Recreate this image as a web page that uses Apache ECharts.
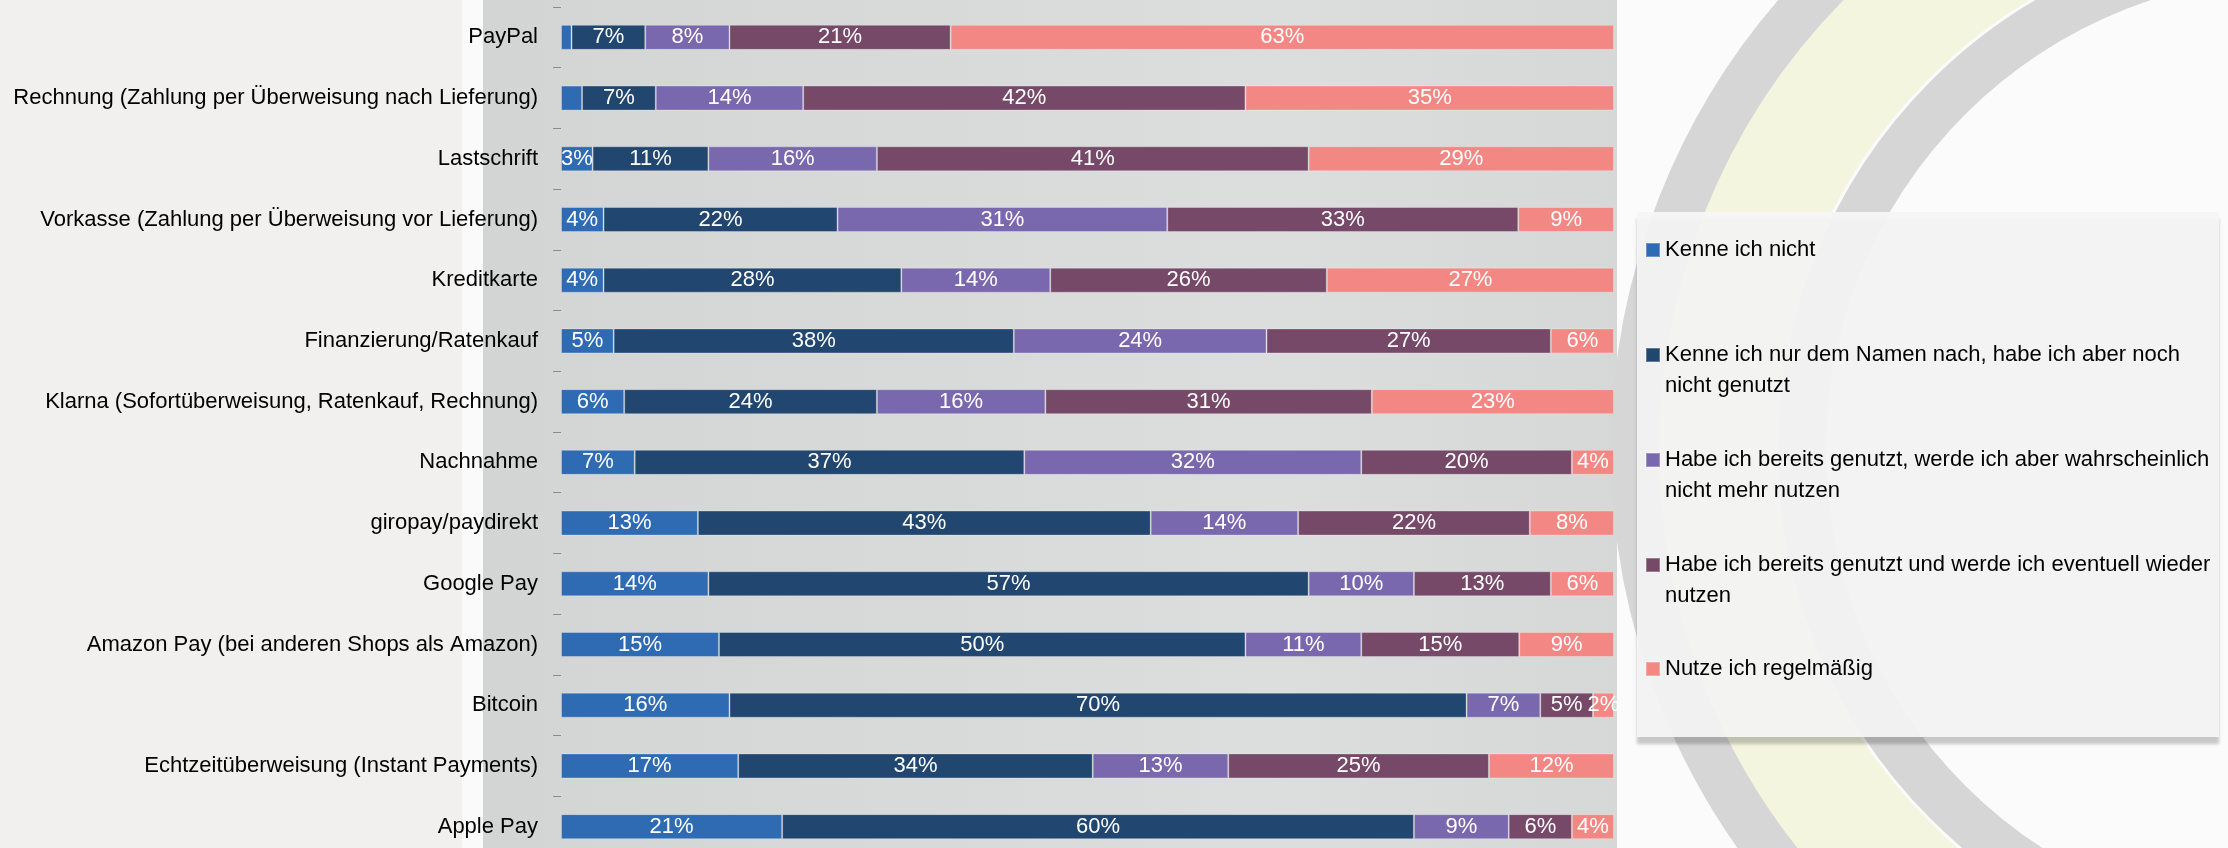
<!DOCTYPE html>
<html><head><meta charset="utf-8">
<script src="https://cdn.jsdelivr.net/npm/echarts@6/dist/echarts.min.js"></script>
<style>html,body{margin:0;padding:0;background:#f1f0ee}#c{width:2228px;height:848px}</style>
</head><body><div id="c"></div>
<script>
const categories = [
  'PayPal',
  'Rechnung (Zahlung per Überweisung nach Lieferung)',
  'Lastschrift',
  'Vorkasse (Zahlung per Überweisung vor Lieferung)',
  'Kreditkarte',
  'Finanzierung/Ratenkauf',
  'Klarna (Sofortüberweisung, Ratenkauf, Rechnung)',
  'Nachnahme',
  'giropay/paydirekt',
  'Google Pay',
  'Amazon Pay (bei anderen Shops als Amazon)',
  'Bitcoin',
  'Echtzeitüberweisung (Instant Payments)',
  'Apple Pay'
];
const seriesNames = [
  'Kenne ich nicht',
  'Kenne ich nur dem Namen nach, habe ich aber noch nicht genutzt',
  'Habe ich bereits genutzt, werde ich aber wahrscheinlich nicht mehr nutzen',
  'Habe ich bereits genutzt und werde ich eventuell wieder nutzen',
  'Nutze ich regelmäßig'
];
const legendText = [
  'Kenne ich nicht',
  'Kenne ich nur dem Namen nach, habe ich aber noch\nnicht genutzt',
  'Habe ich bereits genutzt, werde ich aber wahrscheinlich\nnicht mehr nutzen',
  'Habe ich bereits genutzt und werde ich eventuell wieder\nnutzen',
  'Nutze ich regelmäßig'
];
const kenneNicht   = [1, 2, 3, 4, 4, 5, 6, 7, 13, 14, 15, 16, 17, 21];
const nurNamen     = [7, 7, 11, 22, 28, 38, 24, 37, 43, 57, 50, 70, 34, 60];
const nichtMehr    = [8, 14, 16, 31, 14, 24, 16, 32, 14, 10, 11, 7, 13, 9];
const wieder       = [21, 42, 41, 33, 26, 27, 31, 20, 22, 13, 15, 5, 25, 6];
const regelmaessig = [63, 35, 29, 9, 27, 6, 23, 4, 8, 6, 9, 2, 12, 4];
// category indices whose first-segment label is not shown in the original
const hiddenFirstLabels = [0, 1];

const colors = ['#2F6BB3', '#21466F', '#7A68AE', '#764968', '#F38783'];
const FONT = '"Liberation Sans", Arial, Helvetica, sans-serif';
const values = [kenneNicht, nurNamen, nichtMehr, wieder, regelmaessig];
const totals = categories.map((_, i) => values.reduce((s, a) => s + a[i], 0));

const chart = echarts.init(document.getElementById('c'), null, {renderer: 'canvas'});

const series = values.map((arr, si) => ({
  name: seriesNames[si],
  type: 'bar',
  stack: 'total',
  barWidth: 25,
  animation: false,
  emphasis: {disabled: true},
  itemStyle: {color: colors[si], borderColor: 'rgba(255,255,255,0.28)', borderWidth: 1},
  label: {
    show: true, position: 'inside', color: '#fff',
    fontFamily: FONT, fontSize: 22,
    formatter: p => p.data.raw + '%'
  },
  data: arr.map((v, ci) => ({
    value: v / totals[ci] * 100,
    raw: v,
    label: {show: !(si === 0 && hiddenFirstLabels.includes(ci))}
  }))
}));

const LH = 31;
const SQ = 14;
const firstLineY = [250, 355, 460, 565, 669];
const legends = seriesNames.map((n, i) => {
  const twoLines = legendText[i].indexOf('\n') >= 0;
  const h = twoLines ? SQ + LH : SQ;
  return {
    data: [n],
    left: 1645, top: firstLineY[i] - LH / 2, orient: 'vertical', padding: 0,
    itemWidth: SQ, itemHeight: h,
    icon: twoLines ? 'path://M0,0L14,0L14,14L0,14Z M0,45L0.01,45L0,45Z' : 'rect',
    selectedMode: false,
    formatter: () => legendText[i],
    textStyle: {fontFamily: FONT, fontSize: 22, color: '#000', lineHeight: LH}
  };
});

const graphics = [
  {type: 'rect', shape: {x: 0, y: 0, width: 462, height: 848}, style: {fill: '#F1F0EE'}, z: 0, z2: 0, silent: true},
  {type: 'rect', shape: {x: 462, y: 0, width: 21, height: 848}, style: {fill: '#FAFAFA'}, z: 0, z2: 1, silent: true},
  {type: 'rect', shape: {x: 483, y: 0, width: 1134, height: 848},
   style: {fill: new echarts.graphic.LinearGradient(0, 0, 1, 0, [
     {offset: 0, color: '#D3D4D4'}, {offset: 0.45, color: '#D9DADA'},
     {offset: 0.7, color: '#DCDEDE'}, {offset: 1, color: '#D6D7D7'}])}, z: 0, z2: 2, silent: true},
  {type: 'rect', shape: {x: 1617, y: 0, width: 611, height: 848}, style: {fill: '#FBFBFB'}, z: 0, z2: 3, silent: true},
  {type: 'circle', shape: {cx: 2300, cy: 450, r: 585}, style: {fill: 'none', stroke: '#F3F5DE', lineWidth: 120}, z: 0, z2: 4, silent: true},
  {type: 'circle', shape: {cx: 2300, cy: 450, r: 665}, style: {fill: 'none', stroke: '#D6D6D6', lineWidth: 48}, z: 0, z2: 5, silent: true},
  {type: 'circle', shape: {cx: 2300, cy: 450, r: 498}, style: {fill: 'none', stroke: '#D6D6D6', lineWidth: 48}, z: 0, z2: 6, silent: true},
  {type: 'rect', shape: {x: 1637, y: 212, width: 582, height: 525},
   style: {fill: 'rgba(245,245,245,0.94)', shadowColor: 'rgba(0,0,0,0.22)', shadowBlur: 3, shadowOffsetY: 7},
   z: 1, z2: 0, silent: true}
];

chart.setOption({
  animation: false,
  backgroundColor: '#F1F0EE',
  graphic: {elements: graphics},
  grid: {left: 561, top: 7, width: 1053, height: 850, containLabel: false, outerBoundsMode: 'none'},
  xAxis: {type: 'value', min: 0, max: 100, show: false},
  yAxis: {
    type: 'category', data: categories, inverse: true,
    axisLine: {show: true, lineStyle: {color: '#8A8A8A', width: 1}},
    axisTick: {show: true, length: 8, lineStyle: {color: '#8A8A8A'}},
    axisLabel: {margin: 23, fontSize: 22, color: '#000', fontFamily: FONT},
    splitLine: {show: false}
  },
  legend: legends,
  series: series
});
</script></body></html>
